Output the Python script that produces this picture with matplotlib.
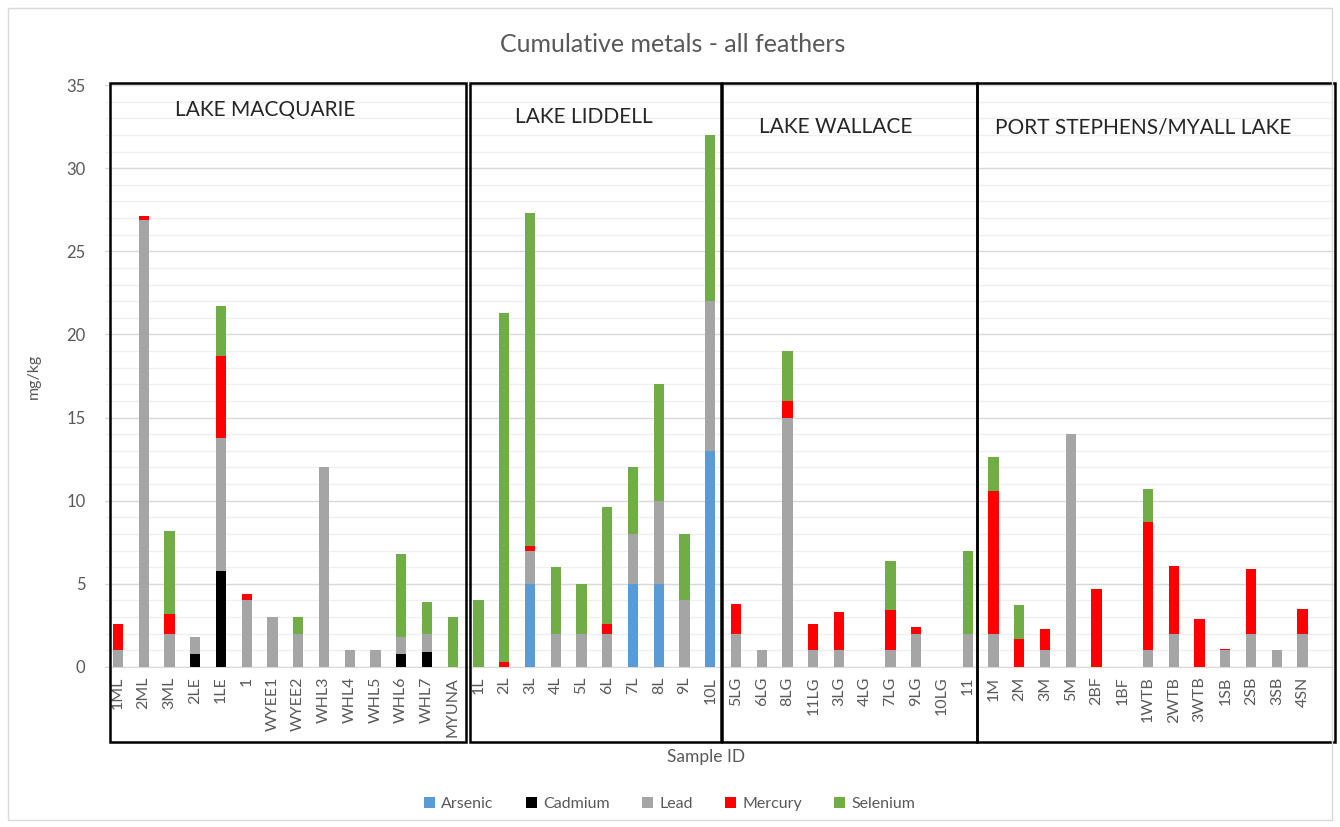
import numpy as np
import matplotlib.pyplot as plt
from matplotlib.patches import Rectangle
from matplotlib.ticker import MultipleLocator

plt.rcParams['font.family'] = ['Lato', 'DejaVu Sans']

# Dados (mg/kg)
amostras = ["1ML", "2ML", "3ML", "2LE", "1LE", "1", "WYEE1", "WYEE2", "WHL3", "WHL4",
            "WHL5", "WHL6", "WHL7", "MYUNA",
            "1L", "2L", "3L", "4L", "5L", "6L", "7L", "8L", "9L", "10L",
            "5LG", "6LG", "8LG", "11LG", "3LG", "4LG", "7LG", "9LG", "10LG", "11",
            "1M", "2M", "3M", "5M", "2BF", "1BF", "1WTB", "2WTB", "3WTB", "1SB",
            "2SB", "3SB", "4SN"]

arsenico = [0, 0, 0, 0, 0, 0, 0, 0, 0, 0, 0, 0, 0, 0,
            0, 0, 5, 0, 0, 0, 5, 5, 0, 13,
            0, 0, 0, 0, 0, 0, 0, 0, 0, 0,
            0, 0, 0, 0, 0, 0, 0, 0, 0, 0, 0, 0, 0]
cadmio = [0, 0, 0, 0.8, 5.8, 0, 0, 0, 0, 0, 0, 0.8, 0.9, 0,
          0, 0, 0, 0, 0, 0, 0, 0, 0, 0,
          0, 0, 0, 0, 0, 0, 0, 0, 0, 0,
          0, 0, 0, 0, 0, 0, 0, 0, 0, 0, 0, 0, 0]
chumbo = [1, 26.9, 2, 1.0, 8, 4, 3, 2, 12, 1, 1, 1, 1.1, 0,
          0, 0, 2, 2, 2, 2, 3, 5, 4, 9,
          2, 1, 15, 1, 1, 0, 1, 2, 0, 2,
          2, 0, 1, 14, 0, 0, 1, 2, 0, 1, 2, 1, 2]
mercurio = [1.6, 0.2, 1.2, 0, 4.9, 0.4, 0, 0, 0, 0, 0, 0, 0, 0,
            0, 0.3, 0.3, 0, 0, 0.6, 0, 0, 0, 0,
            1.8, 0, 1, 1.6, 2.3, 0, 2.4, 0.4, 0, 0,
            8.6, 1.7, 1.3, 0, 4.7, 0, 7.7, 4.1, 2.9, 0.1, 3.9, 0, 1.5]
selenio = [0, 0, 5, 0, 3, 0, 0, 1, 0, 0, 0, 5, 1.9, 3,
           4, 21, 20, 4, 3, 7, 4, 7, 4, 10,
           0, 0, 3, 0, 0, 0, 3, 0, 0, 5,
           2, 2, 0, 0, 0, 0, 2, 0, 0, 0, 0, 0, 0]

metais = ["Arsenic", "Cadmium", "Lead", "Mercury", "Selenium"]
cores = ["#5B9BD5", "#000000", "#A5A5A5", "#FF0000", "#70AD47"]

# Grupos: nome, início, fim (em posições de categoria)
grupos = ["LAKE MACQUARIE", "LAKE LIDDELL", "LAKE WALLACE", "PORT STEPHENS/MYALL LAKE"]
limites = [(-0.31, 13.51), (13.67, 23.4), (23.46, 33.36), (33.36, 47.26)]
pos_titulo = [(2.2, 33.5), (15.4, 33.1), (24.9, 32.5), (34.05, 32.45)]

fig = plt.figure(figsize=(13.4, 8.27), dpi=100)
fig.patches.append(Rectangle((0.006, 0.008), 0.988, 0.982, transform=fig.transFigure,
                             fill=False, edgecolor="#d9d9d9", linewidth=1))
ax = fig.add_axes([0.0784, 0.1935, 0.9179, 0.7037])

x = np.arange(len(amostras))
base = np.zeros(len(amostras))
for nome, valores, cor in zip(metais, [arsenico, cadmio, chumbo, mercurio, selenio], cores):
    v = np.array(valores, dtype=float)
    ax.bar(x, v, 0.4, bottom=base, color=cor, label=nome, zorder=3)
    base += v

ax.set_xlim(-0.5, 47.26)
ax.set_ylim(0, 35)
ax.yaxis.set_major_locator(MultipleLocator(5))
ax.yaxis.set_minor_locator(MultipleLocator(1))
ax.grid(axis="y", which="major", color="#d9d9d9", linewidth=1, zorder=0)
ax.grid(axis="y", which="minor", color="#efefef", linewidth=0.9, zorder=0)
for lado in ["left", "right", "top"]:
    ax.spines[lado].set_visible(False)
ax.spines["bottom"].set_color("#d9d9d9")

ax.set_xticks(x)
ax.set_xticklabels(amostras, rotation=90, fontsize=11.5, color="#595959")
ax.tick_params(axis="x", length=0, pad=7)
ax.tick_params(axis="y", which="both", length=0, labelsize=12, labelcolor="#595959", pad=14)

ax.set_ylabel("mg/kg", fontsize=11.5, color="#595959", labelpad=18)
ax.text((706 - 105) / 1230, (667 - 757) / 582, "Sample ID", transform=ax.transAxes,
        ha="center", va="center", fontsize=12.5, color="#595959")
fig.text(0.502, 0.946, "Cumulative metals - all feathers", ha="center", va="center",
         fontsize=18, color="#595959")

# Caixas de cada lagoa
trans = ax.get_xaxis_transform()
for nome, (x0, x1), (tx, ty) in zip(grupos, limites, pos_titulo):
    ax.add_patch(Rectangle((x0, -0.129), x1 - x0, 1.132, transform=trans, fill=False,
                           edgecolor="black", linewidth=1.8, clip_on=False, zorder=5))
    ax.text(tx, ty, nome, fontsize=15, color="#262626", va="center", ha="left")

ax.legend(loc="center", bbox_to_anchor=(0.459, -0.236), ncol=5, frameon=False,
          fontsize=11.5, handlelength=0.7, handleheight=0.7, columnspacing=2.0,
          handletextpad=0.4, labelcolor="#595959")

fig.savefig("out.png", dpi=100)
